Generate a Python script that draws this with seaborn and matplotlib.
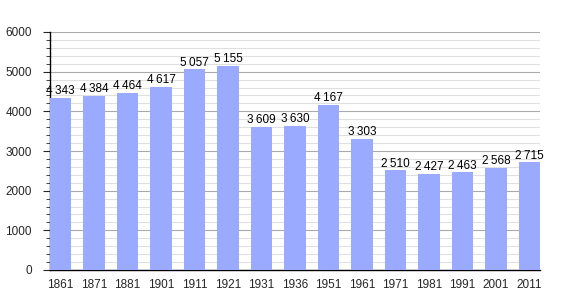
import matplotlib
matplotlib.use("Agg")
import matplotlib.pyplot as plt
import seaborn as sns
import pandas as pd
from matplotlib.ticker import MultipleLocator

years = ["1861", "1871", "1881", "1901", "1911", "1921", "1931", "1936", "1951",
         "1961", "1971", "1981", "1991", "2001", "2011"]
population = [4343, 4384, 4464, 4617, 5057, 5155, 3609, 3630, 4167,
              3303, 2510, 2427, 2463, 2568, 2715]

df = pd.DataFrame({"year": years, "pop": population})

sns.set_style("white")
plt.rcParams['font.family'] = ['Liberation Sans', 'DejaVu Sans']

fig = plt.figure(figsize=(5.7, 3.0), dpi=100)
ax = fig.add_axes([50/570, 30/300, 490/570, 238/300])

sns.barplot(data=df, x="year", y="pop", color="#99aaff", saturation=1,
            width=0.64, ax=ax, zorder=3, linewidth=0, edgecolor="none")

ax.set_ylim(0, 6000)
ax.set_xlim(-0.32, len(years) - 1 + 0.32)
ax.yaxis.set_major_locator(MultipleLocator(1000))
ax.yaxis.set_minor_locator(MultipleLocator(200))
ax.grid(which="major", axis="y", color="#aaaaaa", linewidth=0.8, zorder=0)
ax.grid(which="minor", axis="y", color="#e0e0e0", linewidth=0.8, zorder=0)
ax.set_axisbelow(True)

for s in ["top", "right"]:
    ax.spines[s].set_visible(False)
ax.spines["left"].set_color("black")
ax.spines["bottom"].set_color("black")
ax.spines["left"].set_linewidth(1)
ax.spines["bottom"].set_linewidth(1)

ax.tick_params(axis="y", which="major", left=True, length=5, width=0.8,
               labelsize=8.5, direction="out", pad=8)
ax.tick_params(axis="y", which="minor", left=True, length=3, width=0.6, direction="out")
ax.tick_params(axis="x", which="major", bottom=False, labelsize=8.5, pad=3)
ax.set_xlabel("")
ax.set_ylabel("")

for i, v in enumerate(population):
    s = f"{v:,}".replace(",", "\u2009")
    ax.text(i, v + 20, s, ha="center", va="bottom", fontsize=8.5, color="black", zorder=5)

fig.savefig("out.png", dpi=100)
